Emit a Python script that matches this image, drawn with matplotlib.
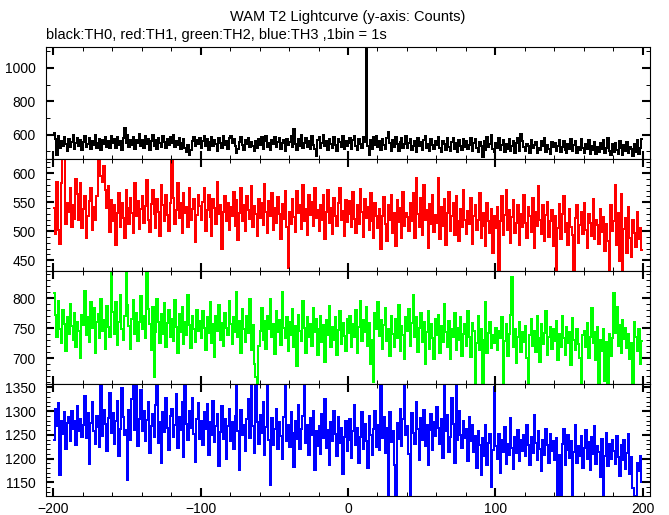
# WAM T2 Lichtkurve, 4 Energiebaender (TH0..TH3), 1 bin = 1 s
import matplotlib.pyplot as plt
from matplotlib.ticker import MultipleLocator

plt.rcParams['font.family'] = ['Liberation Sans', 'DejaVu Sans']

####### Daten (Counts pro 1 s Bin, von -200 s bis 199 s) #######
t_start = -200
binbreite = 1

th0 = [
    612, 575, 478, 590, 522, 561, 530, 585, 541, 503, 572, 528, 556, 596, 515, 549, 580, 532, 567, 509,
    558, 592, 524, 546, 581, 512, 563, 537, 598, 520, 551, 574, 507, 569, 543, 588, 526, 560, 517, 594,
    548, 573, 519, 586, 535, 562, 509, 579, 642, 551, 597, 528, 566, 540, 584, 513, 570, 547, 601, 531,
    565, 522, 589, 544, 576, 510, 559, 595, 533, 568, 515, 582, 548, 527, 593, 556, 518, 574, 539, 587,
    552, 599, 526, 563, 538, 580, 511, 547, 571, 520, 498, 536, 475, 505, 559, 584, 532, 569, 545, 578,
    517, 561, 590, 534, 572, 508, 556, 583, 529, 565, 542, 501, 577, 550, 519, 594, 538, 563, 512, 581,
    592, 548, 571, 530, 492, 516, 557, 586, 539, 510, 568, 545, 579, 524, 556, 531, 503, 562, 520, 574,
    537, 583, 512, 560, 593, 528, 549, 505, 570, 541, 588, 523, 554, 579, 514, 547, 566, 501, 575, 535,
    558, 590, 524, 632, 546, 507, 572, 533, 595, 519, 550, 582, 526, 563, 511, 589, 540, 513, 470, 565,
    585, 521, 552, 597, 530, 564, 506, 576, 544, 519, 583, 538, 502, 571, 555, 527, 590, 516, 562, 534,
    548, 579, 512, 566, 591, 530, 505, 574, 543, 520, 588, 556, 1150, 534, 476, 568, 515, 583, 540, 594,
    527, 561, 508, 573, 539, 514, 582, 616, 549, 503, 567, 524, 586, 541, 499, 556, 578, 517, 544, 590,
    520, 548, 571, 509, 534, 562, 498, 579, 530, 553, 507, 566, 591, 522, 545, 501, 574, 538, 512, 560,
    535, 586, 518, 497, 563, 541, 510, 577, 526, 501, 555, 582, 514, 547, 493, 569, 532, 508, 571, 525,
    560, 512, 539, 578, 503, 548, 572, 519, 494, 557, 530, 468, 563, 509, 584, 527, 545, 600, 516, 498,
    551, 520, 581, 506, 537, 566, 495, 543, 512, 575, 501, 532, 559, 490, 548, 579, 504, 606, 561, 523,
    500, 546, 529, 491, 568, 517, 538, 555, 487, 521, 508, 563, 532, 579, 497, 540, 515, 486, 558, 524,
    551, 502, 533, 570, 494, 528, 562, 510, 489, 545, 516, 571, 499, 537, 560, 488, 526, 505, 574, 519,
    492, 543, 515, 566, 486, 531, 508, 557, 481, 524, 497, 550, 512, 569, 490, 520, 578, 502, 476, 541,
    498, 552, 510, 484, 563, 517, 479, 538, 501, 555, 487, 526, 512, 471, 545, 493, 567, 482, 518, 571,
]

th1 = [
    540, 496, 585, 502, 478, 583, 630, 628, 512, 548, 534, 575, 508, 546, 521, 590, 565, 520, 583, 506,
    538, 561, 489, 527, 552, 575, 503, 541, 519, 560, 630, 628, 596, 585, 612, 571, 540, 578, 498, 553,
    517, 545, 476, 532, 566, 508, 549, 523, 489, 571, 540, 512, 558, 531, 497, 583, 526, 552, 504, 539,
    561, 515, 543, 588, 520, 498, 547, 571, 529, 506, 556, 534, 492, 579, 545, 517, 563, 528, 501, 548,
    630, 557, 512, 536, 584, 523, 548, 497, 566, 531, 542, 508, 574, 520, 539, 555, 482, 528, 563, 544,
    519, 550, 575, 501, 537, 563, 524, 492, 556, 540, 512, 585, 529, 546, 470, 534, 560, 517, 549, 503,
    541, 526, 567, 509, 553, 485, 532, 574, 518, 546, 500, 560, 536, 521, 578, 507, 543, 530, 491, 556,
    522, 548, 510, 581, 533, 497, 552, 526, 566, 503, 540, 515, 559, 529, 487, 547, 521, 569, 508, 437,
    534, 512, 556, 525, 498, 570, 531, 546, 504, 580, 517, 539, 493, 563, 528, 550, 509, 574, 522, 536,
    501, 545, 519, 562, 486, 533, 571, 514, 540, 496, 558, 527, 509, 548, 575, 520, 535, 491, 553, 516,
    530, 552, 507, 568, 521, 497, 545, 512, 573, 534, 490, 556, 523, 541, 503, 566, 518, 488, 549, 527,
    505, 538, 470, 527, 559, 512, 483, 546, 520, 562, 497, 531, 475, 553, 516, 540, 489, 568, 509, 532,
    524, 501, 549, 518, 566, 488, 591, 530, 508, 557, 493, 579, 520, 536, 471, 547, 512, 563, 498, 528,
    515, 592, 486, 541, 509, 555, 477, 532, 568, 501, 526, 549, 494, 560, 517, 483, 539, 507, 571, 520,
    496, 535, 512, 557, 478, 527, 545, 503, 519, 566, 488, 532, 509, 474, 548, 517, 497, 539, 463, 526,
    505, 541, 431, 518, 560, 493, 528, 571, 502, 537, 480, 524, 553, 497, 515, 545, 476, 530, 507, 562,
    514, 489, 541, 526, 498, 557, 472, 533, 509, 578, 520, 495, 546, 483, 528, 551, 490, 517, 536, 475,
    526, 431, 505, 547, 487, 530, 561, 498, 514, 476, 539, 508, 493, 431, 522, 545, 480, 511, 533, 496,
    548, 503, 471, 529, 515, 492, 556, 487, 520, 510, 478, 538, 499, 525, 466, 512, 483, 431, 546, 500,
    517, 580, 476, 531, 448, 565, 431, 504, 522, 462, 541, 488, 455, 519, 497, 473, 533, 486, 505, 468,
]

th2 = [
    808, 772, 735, 795, 748, 726, 781, 757, 712, 769, 740, 790, 754, 731, 776, 718, 761, 745, 700, 772,
    756, 812, 739, 768, 727, 794, 751, 783, 708, 760, 774, 733, 799, 745, 764, 716, 787, 752, 736, 850,
    777, 740, 793, 722, 761, 805, 748, 730, 771, 850, 788, 754, 716, 766, 797, 741, 775, 729, 760, 803,
    748, 770, 733, 850, 782, 757, 713, 786, 669, 744, 799, 761, 725, 773, 740, 792, 719, 758, 781, 736,
    765, 729, 797, 752, 708, 774, 743, 786, 723, 760, 739, 805, 756, 717, 770, 748, 727, 781, 745, 762,
    733, 779, 751, 714, 768, 742, 793, 726, 757, 702, 771, 745, 788, 731, 759, 720, 776, 750, 738, 796,
    757, 724, 769, 744, 810, 735, 762, 709, 782, 748, 727, 771, 742, 798, 713, 756, 691, 668, 657, 720,
    745, 784, 731, 762, 716, 771, 748, 798, 735, 757, 707, 779, 743, 764, 722, 810, 751, 733, 769, 712,
    760, 738, 782, 719, 754, 687, 772, 745, 729, 795, 751, 709, 768, 736, 757, 721, 783, 743, 765, 705,
    748, 771, 727, 756, 693, 764, 739, 787, 718, 752, 731, 769, 706, 747, 778, 724, 758, 737, 712, 766,
    742, 770, 718, 757, 735, 781, 709, 752, 795, 728, 764, 744, 786, 721, 759, 690, 730, 661, 775, 748,
    794, 737, 763, 715, 756, 783, 729, 748, 703, 770, 741, 719, 765, 734, 789, 712, 754, 739, 698, 768,
    745, 782, 721, 759, 805, 736, 768, 711, 750, 775, 727, 761, 690, 744, 779, 716, 757, 733, 698, 766,
    738, 772, 709, 753, 727, 790, 744, 718, 762, 699, 748, 735, 776, 714, 751, 731, 768, 704, 741, 757,
    720, 779, 736, 702, 758, 745, 657, 726, 771, 713, 749, 657, 731, 794, 708, 742, 760, 717, 738, 725,
    751, 714, 745, 733, 768, 657, 728, 757, 703, 741, 772, 835, 719, 748, 692, 736, 761, 710, 744, 727,
    753, 701, 657, 739, 765, 720, 746, 711, 770, 733, 694, 757, 724, 742, 779, 706, 735, 752, 715, 748,
    728, 762, 697, 740, 719, 771, 733, 705, 752, 726, 744, 689, 767, 731, 714, 749, 723, 701, 657, 738,
    746, 718, 759, 700, 735, 783, 725, 744, 697, 752, 657, 731, 712, 748, 662, 727, 657, 741, 703, 733,
    808, 742, 786, 721, 755, 709, 763, 732, 750, 717, 741, 698, 726, 657, 760, 735, 712, 748, 690, 728,
]

th3 = [
    1240, 1305, 1268, 1316, 1165, 1280, 1252, 1297, 1219, 1274, 1288, 1236, 1301, 1262, 1279, 1228, 1311, 1257, 1284, 1246,
    1270, 1332, 1243, 1295, 1188, 1275, 1319, 1258, 1231, 1290, 1267, 1224, 1357, 1248, 1302, 1273, 1215, 1286, 1339, 1254,
    1296, 1231, 1278, 1322, 1205, 1263, 1348, 1287, 1249, 1260, 1155, 1302, 1240, 1325, 1357, 1261, 1357, 1226, 1283, 1345,
    1258, 1301, 1237, 1282, 1320, 1211, 1269, 1294, 1245, 1312, 1357, 1233, 1276, 1190, 1298, 1255, 1327, 1264, 1218, 1289,
    1305, 1246, 1270, 1336, 1222, 1287, 1259, 1318, 1204, 1357, 1273, 1239, 1300, 1265, 1328, 1251, 1192, 1284, 1316, 1242,
    1280, 1229, 1297, 1263, 1314, 1207, 1276, 1250, 1322, 1235, 1268, 1293, 1184, 1255, 1310, 1241, 1283, 1198, 1268, 1305,
    1237, 1276, 1221, 1290, 1357, 1258, 1175, 1302, 1249, 1271, 1215, 1284, 1326, 1243, 1357, 1268, 1211, 1357, 1276, 1230,
    1291, 1253, 1318, 1208, 1266, 1357, 1240, 1145, 1285, 1229, 1262, 1305, 1220, 1276, 1247, 1198, 1288, 1357, 1236, 1270,
    1224, 1297, 1254, 1183, 1278, 1241, 1312, 1219, 1263, 1290, 1357, 1232, 1271, 1208, 1285, 1249, 1301, 1176, 1257, 1226,
    1268, 1210, 1294, 1243, 1325, 1222, 1259, 1186, 1277, 1236, 1301, 1251, 1205, 1288, 1233, 1265, 1168, 1246, 1279, 1215,
    1240, 1283, 1202, 1257, 1312, 1228, 1265, 1191, 1246, 1297, 1219, 1272, 1236, 1181, 1289, 1250, 1207, 1263, 1301, 1225,
    1270, 1218, 1357, 1243, 1287, 1212, 1264, 1121, 1299, 1235, 1258, 1186, 1121, 1274, 1241, 1305, 1226, 1283, 1357, 1250,
    1268, 1209, 1121, 1295, 1254, 1231, 1318, 1262, 1197, 1285, 1240, 1302, 1226, 1271, 1187, 1259, 1294, 1218, 1276, 1247,
    1309, 1265, 1230, 1284, 1202, 1357, 1258, 1291, 1214, 1246, 1328, 1273, 1191, 1357, 1238, 1301, 1250, 1222, 1279, 1244,
    1262, 1195, 1287, 1236, 1270, 1213, 1248, 1180, 1258, 1229, 1165, 1244, 1206, 1271, 1187, 1233, 1252, 1140, 1218, 1350,
    1226, 1198, 1252, 1170, 1239, 1214, 1266, 1189, 1231, 1207, 1286, 1223, 1177, 1245, 1212, 1260, 1194, 1238, 1216, 1250,
    1205, 1270, 1228, 1186, 1245, 1211, 1292, 1233, 1197, 1258, 1219, 1174, 1240, 1207, 1263, 1229, 1190, 1252, 1215, 1237,
    1196, 1243, 1121, 1208, 1121, 1231, 1262, 1187, 1218, 1249, 1202, 1236, 1121, 1214, 1270, 1191, 1227, 1205, 1248, 1180,
    1222, 1261, 1199, 1234, 1176, 1245, 1210, 1269, 1188, 1227, 1213, 1160, 1242, 1121, 1206, 1253, 1185, 1231, 1198, 1238,
    1215, 1189, 1247, 1204, 1163, 1229, 1196, 1240, 1178, 1212, 1251, 1167, 1203, 1138, 1121, 1121, 1190, 1174, 1206, 1150,
]

kurven = [th0, th1, th2, th3]
farben = ['black', 'red', '#00ff00', 'blue']
y_grenzen = [(452, 1124), (431, 624), (657, 845), (1121, 1357)]
y_major = [200, 50, 50, 50]
y_minor = [100, 10, 10, 10]

titel = 'WAM T2 Lightcurve (y-axis: Counts)'
untertitel = 'black:TH0, red:TH1, green:TH2, blue:TH3 ,1bin = 1s'

# Panel-Positionen (Figure-Koordinaten)
links, breite = 0.0683, 0.9037
unten = [0.6907, 0.4732, 0.2544, 0.0369]
hoehe = [0.2175, 0.2175, 0.2188, 0.2175]

fig = plt.figure(figsize=(6.69, 5.15), dpi=100)

for i in range(4):
    ax = fig.add_axes([links, unten[i], breite, hoehe[i]])
    werte = kurven[i]
    kanten = [t_start + k * binbreite for k in range(len(werte) + 1)]
    ax.stairs(werte, kanten, baseline=None, color=farben[i], linewidth=1.4,
              antialiased=False)

    ax.set_xlim(-205.2, 205.2)
    ax.set_ylim(*y_grenzen[i])
    ax.xaxis.set_major_locator(MultipleLocator(100))
    ax.xaxis.set_minor_locator(MultipleLocator(20))
    ax.yaxis.set_major_locator(MultipleLocator(y_major[i]))
    ax.yaxis.set_minor_locator(MultipleLocator(y_minor[i]))

    ax.tick_params(which='both', direction='in', top=True, right=True, colors='black')
    ax.tick_params(which='major', length=6, width=1.5, labelsize=10, pad=7)
    ax.tick_params(which='minor', length=3, width=0.7)
    ax.tick_params(axis='x', which='major', pad=4)
    for s in ax.spines.values():
        s.set_linewidth(0.8)
    if i < 3:
        ax.tick_params(labelbottom=False)

fig.text(0.52, 0.967, titel, ha='center', va='center', fontsize=10.5)
fig.text(links, 0.932, untertitel, ha='left', va='center', fontsize=10.5)

fig.savefig('out.png', dpi=100)
